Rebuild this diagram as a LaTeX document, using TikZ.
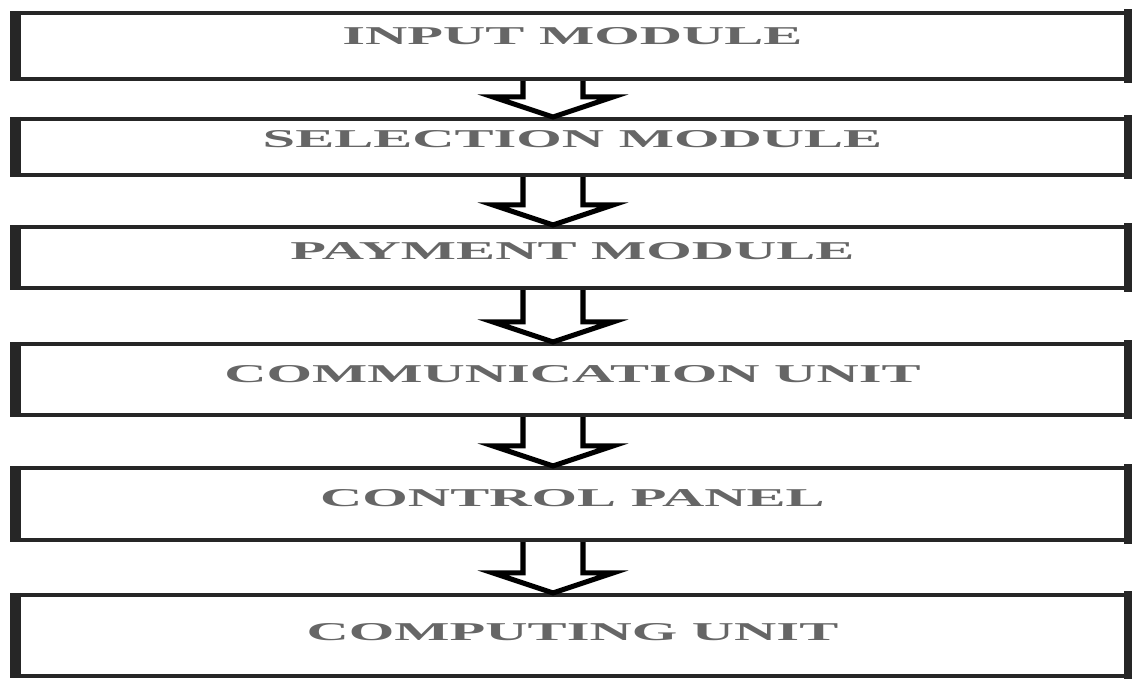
\documentclass[tikz,border=0pt]{standalone}
\usepackage{fontspec}
\newfontfamily\modfont{Liberation Serif}[FakeStretch=2.28]
\usetikzlibrary{calc}

\tikzset{
  module/.style={draw=black!85, line width=0.04cm, minimum width=11.09cm, inner sep=0pt,
    text height=4.9pt, font=\modfont\bfseries\fontsize{7.3}{8}\selectfont, text=black!60},
  sideline/.style={draw=black!85, line width=0.11cm, shorten <=-0.02cm, shorten >=-0.02cm},
  flowarr/.style={draw=black, line width=0.05cm, line join=miter}
}

\begin{document}
\begin{tikzpicture}[x=0.01cm, y=0.01cm]
  \useasboundingbox (0,0) rectangle (1132,679);
  \node[module, minimum height=0.66cm, text depth=5.7pt] (inp) at (572.5,633)   {INPUT MODULE};
  \node[module, minimum height=0.56cm, text depth=4.8pt] (sel) at (572.5,532)   {SELECTION MODULE};
  \node[module, minimum height=0.61cm, text depth=4.0pt] (pay) at (572.5,421.5) {PAYMENT MODULE};
  \node[module, minimum height=0.71cm, text depth=3.4pt] (com) at (572.5,299.5) {COMMUNICATION UNIT};
  \node[module, minimum height=0.72cm, text depth=3.7pt] (ctl) at (572.5,175)   {CONTROL PANEL};
  \node[module, minimum height=0.81cm, text depth=2.3pt] (cmp) at (572.5,43.5)  {COMPUTING UNIT};
  \coordinate (ax) at (553,0);
  % heavy side edges
  \foreach \m in {inp,sel,pay,com,ctl,cmp}
    \draw[sideline] (\m.north west) -- (\m.south west) (\m.north east) -- (\m.south east);
  % hollow arrows
  \foreach \a/\b in {inp/sel,sel/pay,pay/com,com/ctl,ctl/cmp}
    \draw[flowarr] ($(ax |- \a.south)+(-30,0)$) -- ($(ax |- \b.north)+(-30,20)$)
      -- ($(ax |- \b.north)+(-60,20)$) -- (ax |- \b.north) -- ($(ax |- \b.north)+(60,20)$)
      -- ($(ax |- \b.north)+(30,20)$) -- ($(ax |- \a.south)+(30,0)$);
\end{tikzpicture}
\end{document}
